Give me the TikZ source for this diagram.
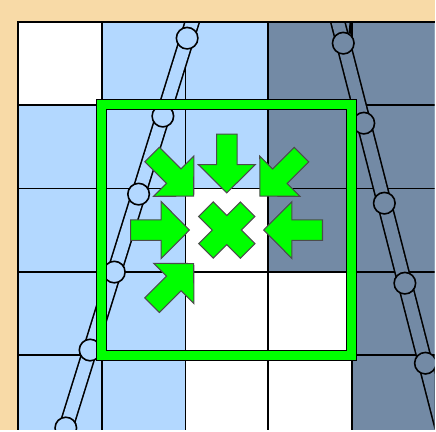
\documentclass[tikz,border=0pt]{standalone}
\usetikzlibrary{calc}
\definecolor{tanbg}{RGB}{248,218,167}
\definecolor{cellblue}{RGB}{179,216,255}
\definecolor{cellslate}{RGB}{115,138,165}
\definecolor{framegreen}{RGB}{0,255,0}
\begin{document}
\begin{tikzpicture}[x=0.75pt,y=-0.75pt,
    cellline/.style={black, line width=1.25pt},
    gridborder/.style={black, line width=2pt},
    bluelink/.style={black, line width=1.2pt, double=cellblue, double distance=9.2pt},
    slatelink/.style={black, line width=1.2pt, double=cellslate, double distance=9.2pt},
    bluejoint/.style={circle, draw=black, line width=1.2pt, fill=cellblue, minimum size=16.2pt, inner sep=0pt},
    slatejoint/.style={bluejoint, fill=cellslate},
    pushtip/.style={fill=framegreen, draw=black!70, line width=0.8pt, line join=miter},
    pics/push/.style={code={
        \draw[pushtip] (0,0) -- (-28.3,28.5) -- (-28.3,10.3) -- (-59,10.3)
            -- (-59,-10.3) -- (-28.3,-10.3) -- (-28.3,-28.5) -- cycle;}}]
    \fill[tanbg] (0,0) rectangle (436,431);
    \begin{scope}
        \clip (18,22) rectangle (436,431);
        % cells
        \fill[cellblue] (18,22) rectangle (436,431);
        \fill[white] (18,22) rectangle (102,105.5);
        \fill[cellslate] (269,22) rectangle (436,272.5);
        \fill[cellslate] (353,272.5) rectangle (436,431);
        \fill[white] (186,189) rectangle (269,272.5);
        \fill[white] (186,272.5) rectangle (353,431);
        \foreach \x in {102,186,269,353} \draw[cellline] (\x,22) -- (\x,431);
        \foreach \y in {105.5,189,272.5,356} \draw[cellline] (18,\y) -- (436,\y);
        % left chain
        \coordinate (l0) at (212.04,-39.9);
        \coordinate (l1) at (187.7,38.3);
        \coordinate (l2) at (163.36,116.5);
        \coordinate (l3) at (139.02,194.7);
        \coordinate (l4) at (114.68,272.9);
        \coordinate (l5) at (90.34,351.1);
        \coordinate (l6) at (66.0,429.3);
        \coordinate (l7) at (41.66,507.5);
        \draw[bluelink] (l0) -- (l1) -- (l2) -- (l3) -- (l4) -- (l5) -- (l6) -- (l7);
        \foreach \k in {1,...,6} \node[bluejoint] (lj\k) at (l\k) {};
        % right chain
        \coordinate (r0) at (323.7,-36.95);
        \coordinate (r1) at (344.3,43.3);
        \coordinate (r2) at (364.9,123.55);
        \coordinate (r3) at (385.5,203.8);
        \coordinate (r4) at (406.1,284.05);
        \coordinate (r5) at (426.7,364.3);
        \coordinate (r6) at (447.3,444.55);
        \draw[slatelink] (r0) -- (r1) -- (r2) -- (r3) -- (r4) -- (r5) -- (r6);
        \foreach \k in {1,...,6} \node[slatejoint] (rj\k) at (r\k) {};
        \coordinate (rtop) at (352.8,16);
        \draw[bluelink, double=none, line width=1.1pt, double distance=0pt] (rj1.55) -- (rtop);
    \end{scope}
    \draw[gridborder] (436,22) -- (18,22) -- (18,431);
    % frame
    \draw[black, line width=8.4pt] (101.5,105) rectangle (352.5,356.3);
    \draw[framegreen, line width=6.6pt] (101.5,105) rectangle (352.5,356.3);
    % arrows towards the centre cell
    \coordinate (hub) at (227.5,230.75);
    \pic[rotate=-90] at ($(hub)+(0,-37.3)$) {push};
    \pic[rotate=0] at ($(hub)+(-37.5,0)$) {push};
    \pic[rotate=180] at ($(hub)+(37,0)$) {push};
    \pic[rotate=-45] at ($(hub)+(-33.2,-34)$) {push};
    \pic[rotate=-135] at ($(hub)+(33.2,-34)$) {push};
    \pic[rotate=45] at ($(hub)+(-33.2,33.6)$) {push};
    \draw[pushtip, shift={(hub)}, rotate=45] (29.6,10.3) -- (10.3,10.3) -- (10.3,29.6)
        -- (-10.3,29.6) -- (-10.3,10.3) -- (-29.6,10.3) -- (-29.6,-10.3) -- (-10.3,-10.3)
        -- (-10.3,-29.6) -- (10.3,-29.6) -- (10.3,-10.3) -- (29.6,-10.3) -- cycle;
\end{tikzpicture}
\end{document}
